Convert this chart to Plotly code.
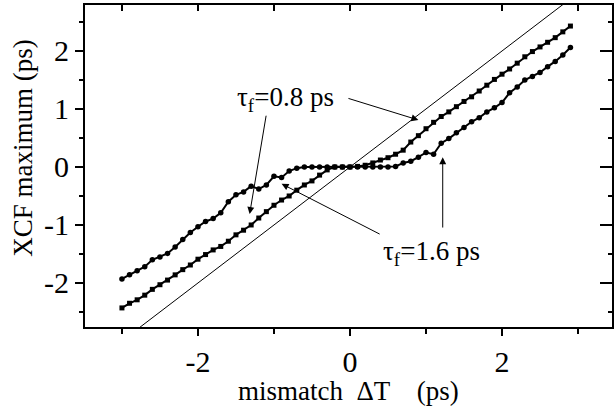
import plotly.graph_objects as go

# Delay mismatch between the pulses (ps)
delta_t = [-3.0, -2.9, -2.8, -2.7, -2.6, -2.5, -2.4, -2.3, -2.2, -2.1,
           -2.0, -1.9, -1.8, -1.7, -1.6, -1.5, -1.4, -1.3, -1.2, -1.1,
           -1.0, -0.9, -0.8, -0.7, -0.6, -0.5, -0.4, -0.3, -0.2, -0.1,
           0.0, 0.1, 0.2, 0.3, 0.4, 0.5, 0.6, 0.7, 0.8, 0.9,
           1.0, 1.1, 1.2, 1.3, 1.4, 1.5, 1.6, 1.7, 1.8, 1.9,
           2.0, 2.1, 2.2, 2.3, 2.4, 2.5, 2.6, 2.7, 2.8, 2.9]

# Position of the cross-correlation maximum for tau_f = 0.8 ps (ps)
xcf_tau08 = [-2.43, -2.35, -2.29, -2.21, -2.11, -2.03, -1.95, -1.86, -1.77, -1.69,
             -1.59, -1.51, -1.43, -1.37, -1.28, -1.17, -1.09, -1.00, -0.88, -0.77,
             -0.66, -0.57, -0.50, -0.40, -0.31, -0.24, -0.14, -0.05, 0.00, 0.00,
             0.00, 0.01, 0.03, 0.07, 0.12, 0.16, 0.22, 0.29, 0.43, 0.54,
             0.66, 0.77, 0.87, 0.95, 1.04, 1.13, 1.21, 1.31, 1.41, 1.51,
             1.60, 1.69, 1.79, 1.90, 1.99, 2.07, 2.15, 2.23, 2.33, 2.43]

# Position of the cross-correlation maximum for tau_f = 1.6 ps (ps)
xcf_tau16 = [-1.93, -1.86, -1.79, -1.72, -1.60, -1.55, -1.49, -1.38, -1.25, -1.13,
             -1.03, -0.94, -0.89, -0.79, -0.60, -0.48, -0.43, -0.33, -0.38, -0.31,
             -0.16, -0.18, -0.07, -0.02, 0.00, 0.00, 0.00, 0.00, 0.00, 0.00,
             0.00, 0.00, 0.00, 0.00, 0.00, 0.00, 0.01, 0.07, 0.10, 0.17,
             0.25, 0.22, 0.41, 0.49, 0.59, 0.68, 0.78, 0.85, 0.95, 1.02,
             1.11, 1.28, 1.38, 1.50, 1.56, 1.63, 1.73, 1.82, 1.93, 2.06]

# Reference line XCF maximum = mismatch
ideal_x = [-3.6, 3.6]
ideal_y = [-3.6, 3.6]

x_ticks = [-2, 0, 2]
x_tick_text = ["-2", "0", "2"]
y_ticks = [-2, -1, 0, 1, 2]
y_tick_text = ["-2", "-1", "0", "1", "2"]

X_RANGE = [-3.486, 3.447]
Y_RANGE = [-2.759, 2.793]

FONT = "Liberation Serif"
INK = "black"

fig = go.Figure()

fig.add_trace(go.Scatter(
    x=ideal_x, y=ideal_y, mode="lines",
    line=dict(color=INK, width=1), hoverinfo="skip", showlegend=False))

fig.add_trace(go.Scatter(
    x=delta_t, y=xcf_tau16, mode="lines+markers",
    line=dict(color=INK, width=2),
    marker=dict(symbol="circle", size=5.5, color=INK),
    showlegend=False))

fig.add_trace(go.Scatter(
    x=delta_t, y=xcf_tau08, mode="lines+markers",
    line=dict(color=INK, width=2),
    marker=dict(symbol="square", size=5, color=INK),
    showlegend=False))

# empty trace so the tick-only top/right axes get drawn
fig.add_trace(go.Scatter(x=[None], y=[None], xaxis="x2", yaxis="y2",
                         showlegend=False, hoverinfo="skip"))

# labels with arrows pointing at the curves: (text, x, y, arrows[(tail, head)])
labels = [
    ("τ<sub>f</sub>=0.8 ps", -1.494, 1.17,
     [((-1.10, 0.91), (-1.32, -0.81)), ((-0.04, 1.19), (0.90, 0.81))]),
    ("τ<sub>f</sub>=1.6 ps", 0.42, -1.49,
     [((0.41, -1.17), (-0.90, -0.29)), ((1.22, -1.07), (1.22, 0.17))]),
]

annotations = []
for text, tx, ty, arrows in labels:
    annotations.append(dict(
        x=tx, y=ty, xref="x", yref="y", text=text, showarrow=False,
        xanchor="left", yanchor="middle", borderpad=0,
        font=dict(family=FONT, size=27, color=INK)))
    for (x0, y0), (x1, y1) in arrows:
        annotations.append(dict(
            x=x1, y=y1, ax=x0, ay=y0, xref="x", yref="y", axref="x", ayref="y",
            text="", showarrow=True, arrowhead=2, arrowsize=1.4,
            arrowwidth=1, arrowcolor=INK, standoff=0, startstandoff=0))

annotations.append(dict(
    x=0.5, y=-0.2, xref="paper", yref="paper",
    text="mismatch  ΔT    (ps)",
    showarrow=False, xanchor="center", yanchor="middle",
    font=dict(family=FONT, size=27, color=INK)))
annotations.append(dict(
    x=-0.118, y=0.556, xref="paper", yref="paper", text="XCF maximum (ps)",
    textangle=-90, showarrow=False, xanchor="center", yanchor="middle",
    font=dict(family=FONT, size=27, color=INK)))

fig.update_layout(
    width=614, height=409,
    margin=dict(l=85, r=0, t=5, b=82),
    paper_bgcolor="white", plot_bgcolor="white",
    font=dict(family=FONT, size=25, color=INK),
    showlegend=False,
    annotations=annotations,
    xaxis=dict(
        range=X_RANGE, tickvals=x_ticks, ticktext=x_tick_text,
        ticks="outside", ticklen=7, tickwidth=1.5, tickcolor=INK,
        minor=dict(tickvals=[-3, -1, 1, 3], ticks="outside", ticklen=5,
                   tickwidth=1.5, tickcolor=INK),
        showline=True, linewidth=2, linecolor=INK, mirror=True,
        showgrid=False, zeroline=False,
        tickfont=dict(family=FONT, size=30, color=INK)),
    yaxis=dict(
        range=Y_RANGE, tickvals=y_ticks, ticktext=y_tick_text,
        ticks="outside", ticklen=8, tickwidth=1.5, tickcolor=INK,
        minor=dict(tickvals=[-2.5, -1.5, -0.5, 0.5, 1.5, 2.5], ticks="outside",
                   ticklen=4, tickwidth=1.5, tickcolor=INK),
        showline=True, linewidth=2, linecolor=INK, mirror=True,
        showgrid=False, zeroline=False,
        tickfont=dict(family=FONT, size=30, color=INK)),
    xaxis2=dict(
        range=X_RANGE, overlaying="x", side="top", anchor="y",
        tickvals=[-3, -2, -1, 0, 1, 2, 3], ticks="inside", ticklen=6,
        tickwidth=1.5, tickcolor=INK, showticklabels=False,
        showgrid=False, zeroline=False, showline=False),
    yaxis2=dict(
        range=Y_RANGE, overlaying="y", side="right", anchor="x",
        tickvals=y_ticks, ticks="inside", ticklen=12, tickwidth=1.5,
        tickcolor=INK, showticklabels=False,
        minor=dict(tickvals=[-2.5, -1.5, -0.5, 0.5, 1.5, 2.5], ticks="inside",
                   ticklen=4, tickwidth=1.5, tickcolor=INK),
        showgrid=False, zeroline=False, showline=False),
)

fig.write_html("out.html")
